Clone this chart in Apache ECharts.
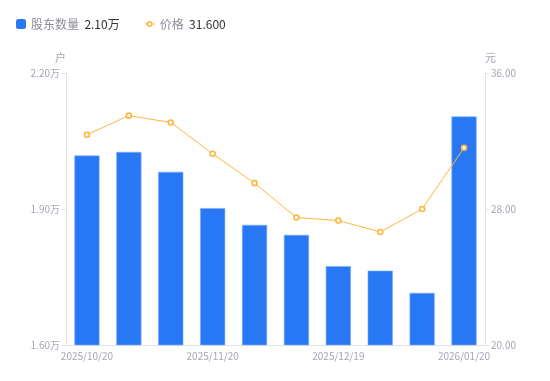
<!DOCTYPE html>
<html><head><meta charset="utf-8">
<script src="https://cdn.jsdelivr.net/npm/echarts@6/dist/echarts.min.js"></script>
<style>html,body{margin:0;padding:0;background:#fff}#c{width:550px;height:381px}</style>
</head><body><div id="c"></div>
<script>
const categories = ['2025/10/20','2025/10/31','2025/11/10','2025/11/20','2025/11/28','2025/12/10','2025/12/19','2025/12/31','2026/01/09','2026/01/20'];
const holders = [2.018, 2.026, 1.982, 1.902, 1.865, 1.843, 1.774, 1.764, 1.715, 2.104];
const prices = [32.37, 33.49, 33.09, 31.25, 29.52, 27.50, 27.32, 26.65, 28.00, 31.60];
const leftTicks = {min: 1.6, max: 2.2, interval: 0.3};
const rightTicks = {min: 20, max: 36, interval: 8};

const lineIcon = 'path://M2,5A3,3 0 1 1 8,5A3,3 0 1 1 2,5Z M3.5,5A1.5,1.5 0 1 0 6.5,5A1.5,1.5 0 1 0 3.5,5Z M0,4.5H2.1V5.5H0Z M7.9,4.5H10V5.5H7.9Z';

const chart = echarts.init(document.getElementById('c'), null, {renderer: 'canvas'});
const labelColor = '#a3a6b4';
chart.setOption({
  animation: false,
  textStyle: {fontFamily: '"Noto Sans CJK SC", "Noto Sans", sans-serif'},
  legend: {
    left: 11, top: 13, itemWidth: 10, itemHeight: 10, itemGap: 25,
    data: [
      {name: '股东数量', icon: 'roundRect', itemStyle: {color: '#2878f5', borderWidth: 0}},
      {name: '价格', icon: lineIcon, itemStyle: {color: '#ffb53d', borderWidth: 0}}
    ],
    formatter: function (n) {
      if (n === '股东数量') return '{a|' + n + '}  {b|' + holders[holders.length-1].toFixed(2) + '万}';
      return '{a|' + n + '}  {b|' + prices[prices.length-1].toFixed(3) + '}';
    },
    textStyle: {rich: {a: {color: '#8a8d99', fontSize: 12}, b: {color: '#333', fontSize: 12}}}
  },
  grid: {left: 66, right: 65, top: 73, bottom: 36},
  xAxis: {
    type: 'category', data: categories,
    axisLine: {lineStyle: {color: '#e3e3e6'}},
    axisTick: {show: false},
    axisLabel: {color: labelColor, fontSize: 10, interval: 2, margin: 6, showMaxLabel: true}
  },
  yAxis: [{
    type: 'value', name: '户', min: leftTicks.min, max: leftTicks.max, interval: leftTicks.interval,
    nameTextStyle: {color: labelColor, fontSize: 11, align: 'right'},
    nameGap: 10,
    axisLine: {show: true, lineStyle: {color: '#e3e3e6'}},
    axisTick: {show: true, length: 4, lineStyle: {color: '#e3e3e6'}},
    splitLine: {show: false},
    axisLabel: {color: labelColor, fontSize: 10, margin: 6, formatter: v => v.toFixed(2) + '万'}
  }, {
    type: 'value', name: '元', min: rightTicks.min, max: rightTicks.max, interval: rightTicks.interval,
    nameTextStyle: {color: labelColor, fontSize: 11, align: 'left'},
    nameGap: 10,
    axisLine: {show: true, lineStyle: {color: '#e3e3e6'}},
    axisTick: {show: true, length: 4, lineStyle: {color: '#e3e3e6'}},
    splitLine: {show: false},
    axisLabel: {color: labelColor, fontSize: 10, margin: 6, formatter: v => v.toFixed(2)}
  }],
  series: [{
    name: '股东数量', type: 'bar', data: holders, barWidth: '60%',
    itemStyle: {color: '#2878f5', borderColor: '#7eaef7', borderWidth: 0.6}
  }, {
    name: '价格', type: 'line', yAxisIndex: 1, data: prices,
    symbol: 'circle', symbolSize: 5, showSymbol: true,
    lineStyle: {color: '#ffb53d', width: 1},
    itemStyle: {color: '#fff', borderColor: '#ffb53d', borderWidth: 1.6}
  }]
});
</script></body></html>
